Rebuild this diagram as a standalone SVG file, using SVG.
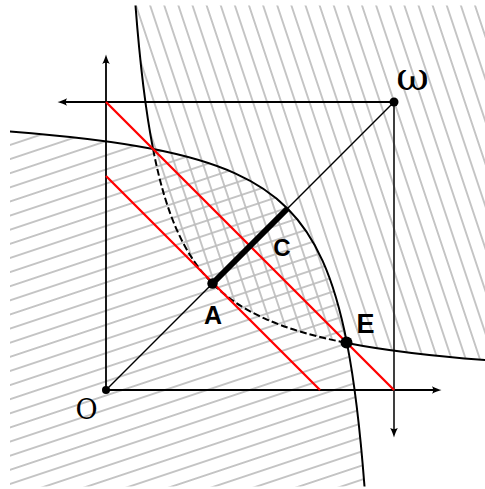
<svg xmlns="http://www.w3.org/2000/svg" width="485" height="489" viewBox="0 0 485 489">
<style>
.ax{stroke:#000;stroke-width:1.8;fill:none}
.axg{stroke:#2a2a2a;stroke-width:1.8;fill:none}
.crv{stroke:#000;stroke-width:2;fill:none}
.dash{stroke-dasharray:7 3}
.red{stroke:#ff0000;stroke-width:2.3;fill:none}
.hl{stroke:#bdbdbd;stroke-width:1.7;fill:none}
.lbl{font-family:"DejaVu Serif","Liberation Serif",serif;fill:#000}
.blbl{font-family:"Liberation Sans","DejaVu Sans",sans-serif;font-weight:bold;fill:#000}
</style>
<defs>
<clipPath id="clip"><rect x="10" y="5.5" width="480" height="481"/></clipPath>
<pattern id="pS" patternUnits="userSpaceOnUse" width="13.4" height="13.4" patternTransform="rotate(71.565)"><path class="hl" d="M-2,6.7H16"/></pattern>
<pattern id="pL" patternUnits="userSpaceOnUse" width="13.4" height="13.4" patternTransform="rotate(-18.435)"><path class="hl" d="M-2,6.7H16"/></pattern>
<marker id="arr" markerUnits="userSpaceOnUse" markerWidth="12" markerHeight="10" refX="6" refY="5" orient="auto" overflow="visible"><path d="M9.5,5 C7,4.3 3,3 0,1.2 Q2.3,5 0,8.8 C3,7 7,5.7 9.5,5Z" fill="#000"/></marker>
</defs>
<g id="hatching" clip-path="url(#clip)">
<path fill="url(#pS)" d="M135.02,-0.78 C139.70,62.27 145.49,110.31 153.09,149.16 C159.62,182.56 167.49,209.09 177.39,231.12 C186.91,252.30 198.3,269.3 212.5,283.5 C226.7,297.7 243.70,309.09 264.88,318.61 C286.91,328.51 313.44,336.38 346.84,342.91 C385.70,350.51 433.74,356.30 496.78,360.98 L500,-10 L130,-10 Z"/>
<path fill="url(#pL)" d="M364.98,492.78 C360.30,429.73 354.51,381.69 346.91,342.84 C340.38,309.44 332.51,282.91 322.61,260.88 C313.09,239.70 301.7,222.7 287.5,208.5 C273.3,194.3 256.30,182.91 235.12,173.39 C213.09,163.49 186.56,155.62 153.16,149.09 C114.30,141.49 66.26,135.70 3.22,131.02 L-10,130 L-10,500 L370,500 Z"/>
</g>
<g id="connectors">
<path class="ax" d="M106,390 V58" marker-end="url(#arr)"/>
<path class="ax" d="M106,390 H438" marker-end="url(#arr)"/>
<path class="ax" d="M394,102 H61" marker-end="url(#arr)"/>
<path class="axg" d="M394,102 V434" marker-end="url(#arr)"/>
<g clip-path="url(#clip)">
<path class="crv" d="M135.02,-0.78 C139.70,62.27 145.49,110.31 153.09,149.16"/>
<path class="crv dash" d="M153.09,149.16 C159.62,182.56 167.49,209.09 177.39,231.12 C186.91,252.30 198.3,269.3 212.5,283.5 C226.7,297.7 243.70,309.09 264.88,318.61 C286.91,328.51 313.44,336.38 346.84,342.91"/>
<path class="crv" d="M346.84,342.91 C385.70,350.51 433.74,356.30 496.78,360.98"/>
<path class="crv" d="M364.98,492.78 C360.30,429.73 354.51,381.69 346.91,342.84 C340.38,309.44 332.51,282.91 322.61,260.88 C313.09,239.70 301.7,222.7 287.5,208.5 C273.3,194.3 256.30,182.91 235.12,173.39 C213.09,163.49 186.56,155.62 153.16,149.09 C114.30,141.49 66.26,135.70 3.22,131.02"/>
</g>
<path class="red" d="M106,102 L394,390"/>
<path class="red" d="M106,176 L320,390"/>
<path stroke="#000" stroke-width="1.5" d="M106,390 L394,102"/>
<path stroke="#000" stroke-width="6" d="M212.5,283.5 L287.5,208.5"/>
</g>
<g id="O"><circle cx="106" cy="390" r="4"/><text class="lbl" x="86.5" y="419" font-size="27" text-anchor="middle">O</text></g>
<g id="omega"><circle cx="394" cy="102" r="4.5"/><text class="lbl" x="412.5" y="90" font-size="40" text-anchor="middle">ω</text></g>
<g id="A"><circle cx="212.5" cy="283.5" r="5.2"/><text class="blbl" x="213" y="324" font-size="25" text-anchor="middle">A</text></g>
<g id="C"><text class="blbl" x="282" y="256" font-size="24" text-anchor="middle">C</text></g>
<g id="E"><circle cx="346.5" cy="342.5" r="6"/><text class="blbl" x="365.5" y="333" font-size="27" text-anchor="middle">E</text></g>
</svg>
